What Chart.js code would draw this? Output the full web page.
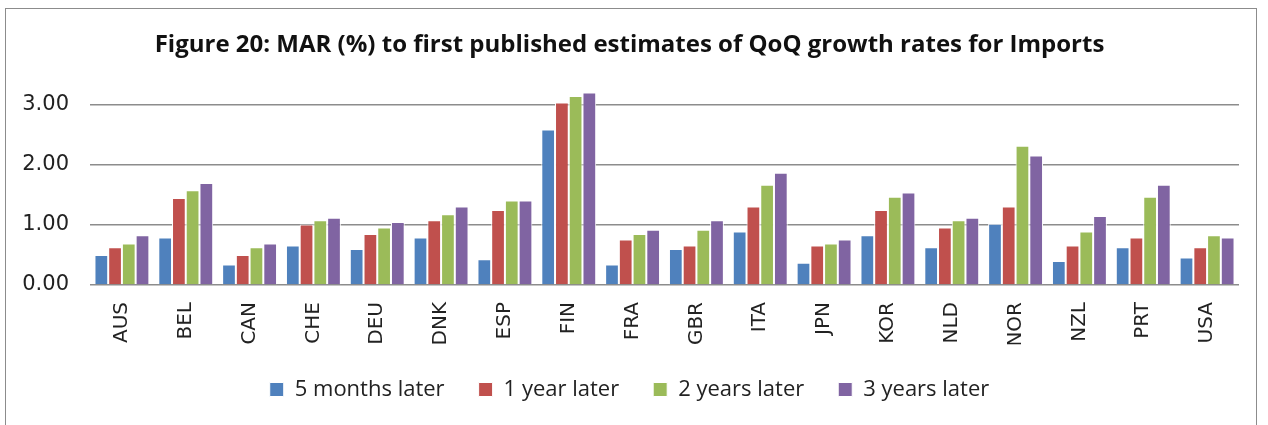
<!DOCTYPE html>
<html>
<head>
<meta charset="utf-8">
<script src="https://cdn.jsdelivr.net/npm/chart.js@4"></script>
<style>
  html, body { margin: 0; padding: 0; background: #fff; }
  #frame {
    position: absolute; left: 5px; top: 8px; width: 1252px; height: 430px;
    border: 1px solid #8c8c8c; box-sizing: border-box;
  }
  #wrap { position: absolute; left: 0; top: 0; width: 1268px; height: 425px; }
</style>
</head>
<body>
<div id="frame"></div>
<div id="wrap"><canvas id="chart" width="1268" height="425"></canvas></div>
<script>
// countries on the x axis
const countries = ["AUS", "BEL", "CAN", "CHE", "DEU", "DNK", "ESP", "FIN", "FRA",
    "GBR", "ITA", "JPN", "KOR", "NLD", "NOR", "NZL", "PRT", "USA"];

// MAR (%) per revision horizon
const fiveMonths = [0.50, 0.79, 0.34, 0.66, 0.60, 0.79, 0.43, 2.59, 0.34,
    0.60, 0.89, 0.37, 0.83, 0.63, 1.02, 0.40, 0.63, 0.46];
const oneYear = [0.63, 1.45, 0.50, 1.01, 0.85, 1.08, 1.25, 3.04, 0.76,
    0.66, 1.31, 0.66, 1.25, 0.96, 1.31, 0.66, 0.79, 0.63];
const twoYears = [0.69, 1.58, 0.63, 1.08, 0.96, 1.18, 1.41, 3.15, 0.85,
    0.92, 1.67, 0.69, 1.47, 1.08, 2.32, 0.89, 1.47, 0.83];
const threeYears = [0.83, 1.70, 0.69, 1.12, 1.05, 1.31, 1.41, 3.21, 0.92,
    1.08, 1.87, 0.76, 1.54, 1.12, 2.16, 1.15, 1.67, 0.79];

const yTicks = [0, 1, 2, 3];

const seriesNames = ["5 months later", "1 year later", "2 years later", "3 years later"];
const seriesColors = ["#4F81BD", "#C0504D", "#9BBB59", "#8064A2"];
const seriesData = [fiveMonths, oneYear, twoYears, threeYears];

const ctx = document.getElementById("chart").getContext("2d");

new Chart(ctx, {
    type: "bar",
    data: {
        labels: countries,
        datasets: seriesData.map((d, i) => ({
            label: seriesNames[i],
            data: d,
            backgroundColor: seriesColors[i],
            borderColor: "#ffffff",
            borderWidth: 1,
            categoryPercentage: 0.86,
            barPercentage: 1.0
        }))
    },
    options: {
        responsive: false,
        animation: false,
        layout: {
            // left padding + y axis width = 90 (plot starts there)
            padding: { left: 20, right: 29, top: 0, bottom: 14.5 }
        },
        scales: {
            x: {
                grid: { display: false, drawTicks: false },
                border: { display: false },
                ticks: {
                    minRotation: 90,
                    maxRotation: 90,
                    padding: 17,
                    color: "#222",
                    font: { family: "DejaVu Sans", size: 20 }
                },
                afterFit(scale) { scale.height = 59.5; }
            },
            y: {
                min: 0,
                max: 3.4,
                afterBuildTicks(scale) {
                    scale.ticks = yTicks.map(v => ({ value: v }));
                },
                grid: {
                    color: "#8c8c8c",
                    lineWidth: 1.5,
                    drawTicks: false
                },
                border: { display: false },
                ticks: {
                    padding: 21,
                    color: "#222",
                    font: { family: "DejaVu Sans", size: 21 },
                    callback: v => v.toFixed(2)
                },
                afterFit(scale) { scale.width = 70; }
            }
        },
        plugins: {
            title: {
                display: true,
                text: "Figure 20: MAR (%) to first published estimates of QoQ growth rates for Imports",
                color: "#111",
                font: { family: "Open Sans", size: 24, weight: "bold" },
                padding: { top: 31, bottom: 21.2 }
            },
            legend: {
                position: "bottom",
                labels: {
                    boxWidth: 14,
                    boxHeight: 14,
                    padding: 34,
                    color: "#222",
                    font: { family: "Open Sans", size: 22 }
                }
            },
            tooltip: { enabled: false }
        }
    }
});
</script>
</body>
</html>
